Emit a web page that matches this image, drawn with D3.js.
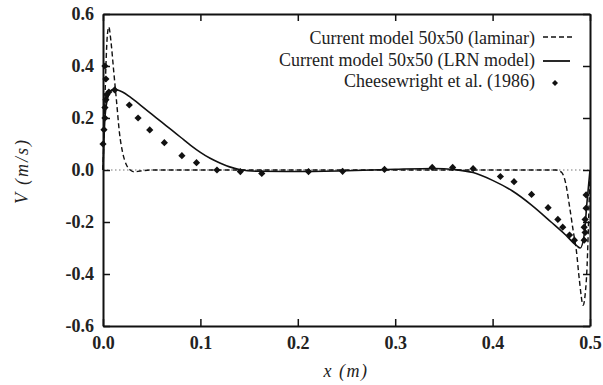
<!DOCTYPE html>
<html><head><meta charset="utf-8">
<script src="https://cdn.jsdelivr.net/npm/d3@7"></script>
<style>body{margin:0;background:#fff}svg{display:block}</style>
</head><body>
<svg id="c" width="603" height="385"></svg>
<script>
const xTicks = [0.0, 0.1, 0.2, 0.3, 0.4, 0.5];
const yTicks = [-0.6, -0.4, -0.2, 0.0, 0.2, 0.4, 0.6];
const xTickLabels = ["0.0", "0.1", "0.2", "0.3", "0.4", "0.5"];
const yTickLabels = ["-0.6", "-0.4", "-0.2", "0.0", "0.2", "0.4", "0.6"];

const laminarX = [0, 0.0015, 0.003, 0.0045, 0.006, 0.008, 0.011, 0.014, 0.017, 0.020, 0.024, 0.028, 0.032, 0.038, 0.05, 0.1, 0.2, 0.3, 0.4, 0.465, 0.471, 0.475, 0.479, 0.483, 0.486, 0.489, 0.493, 0.495, 0.497, 0.4985, 0.5];
const laminarV = [0, 0.2, 0.4, 0.52, 0.55, 0.5, 0.38, 0.26, 0.14, 0.07, 0.02, 0.0, -0.007, -0.004, 0, 0, 0, 0, 0, 0, -0.01, -0.05, -0.14, -0.24, -0.31, -0.42, -0.52, -0.48, -0.37, -0.2, 0];

const lrnX = [0, 0.002, 0.005, 0.008, 0.011, 0.015, 0.02, 0.028, 0.04, 0.05, 0.06, 0.07, 0.08, 0.09, 0.1, 0.11, 0.12, 0.13, 0.14, 0.16, 0.2, 0.25, 0.3, 0.34, 0.36, 0.38, 0.4, 0.42, 0.44, 0.46, 0.475, 0.486, 0.49, 0.494, 0.497, 0.5];
const lrnV = [0, 0.2, 0.28, 0.305, 0.31, 0.308, 0.3, 0.28, 0.245, 0.215, 0.185, 0.155, 0.125, 0.095, 0.068, 0.045, 0.027, 0.012, 0.002, -0.005, -0.006, -0.003, 0.003, 0.006, 0.002, -0.01, -0.04, -0.08, -0.135, -0.2, -0.25, -0.29, -0.3, -0.25, -0.12, 0];

const expX = [0.0, 0.001, 0.002, 0.002, 0.003, 0.004, 0.002, 0.003, 0.006, 0.012, 0.027, 0.036, 0.048, 0.063, 0.081, 0.096, 0.117, 0.141, 0.163, 0.211, 0.246, 0.289, 0.338, 0.359, 0.38, 0.408, 0.422, 0.44, 0.457, 0.467, 0.472, 0.479, 0.484, 0.496, 0.496, 0.495, 0.494, 0.495, 0.494];
const expV = [0.10, 0.155, 0.2, 0.24, 0.27, 0.29, 0.40, 0.35, 0.30, 0.308, 0.25, 0.20, 0.154, 0.105, 0.055, 0.028, 0.0, -0.006, -0.013, -0.006, -0.005, 0.002, 0.01, 0.01, 0.005, -0.025, -0.045, -0.094, -0.145, -0.19, -0.22, -0.25, -0.27, -0.096, -0.147, -0.19, -0.22, -0.24, -0.27];

const legendLabels = ["Current model 50x50 (laminar)", "Current model 50x50 (LRN model)", "Cheesewright et al.  (1986)"];

const svg = d3.select("#c");
const L = 103, R = 590, T = 14, B = 326;
const x = d3.scaleLinear().domain([0, 0.5]).range([L, R]);
const y = d3.scaleLinear().domain([-0.6, 0.6]).range([B, T]);
const serif = '"Liberation Serif", serif';

// zero dotted line
svg.append("line").attr("x1", x(0)).attr("x2", x(0.5)).attr("y1", y(0)).attr("y2", y(0))
  .attr("stroke", "#777").attr("stroke-width", 1.2).attr("stroke-dasharray", "1.5,2.5");

// curves
const line = (xs, vs) => d3.line().x((d, i) => x(xs[i])).y((d, i) => y(vs[i])).curve(d3.curveMonotoneX)(xs);
svg.append("path").attr("d", line(laminarX, laminarV)).attr("fill", "none")
  .attr("stroke", "#111").attr("stroke-width", 1.4).attr("stroke-dasharray", "5,3");
svg.append("path").attr("d", line(lrnX, lrnV)).attr("fill", "none")
  .attr("stroke", "#111").attr("stroke-width", 1.6);

// points (diamonds as rotated squares)
const sym = d3.symbol().type(d3.symbolSquare).size(26);
svg.append("g").selectAll("path").data(expX).join("path")
  .attr("d", sym).attr("transform", (d, i) => `translate(${x(expX[i])},${y(expV[i])}) rotate(45)`)
  .attr("fill", "#111");

// axes (inside ticks on all four sides)
const fmtX = (d, i) => xTickLabels[i];
const fmtY = (d, i) => yTickLabels[i];
const ax = [
  svg.append("g").attr("transform", `translate(0,${B})`).call(d3.axisBottom(x).tickValues(xTicks).tickFormat(fmtX).tickSizeInner(-7).tickSizeOuter(0).tickPadding(10)),
  svg.append("g").attr("transform", `translate(0,${T})`).call(d3.axisTop(x).tickValues(xTicks).tickFormat("").tickSizeInner(-7).tickSizeOuter(0)),
  svg.append("g").attr("transform", `translate(${L},0)`).call(d3.axisLeft(y).tickValues(yTicks).tickFormat(fmtY).tickSizeInner(-7).tickSizeOuter(0).tickPadding(9)),
  svg.append("g").attr("transform", `translate(${R},0)`).call(d3.axisRight(y).tickValues(yTicks).tickFormat("").tickSizeInner(-7).tickSizeOuter(0))
];
ax.forEach(g => {
  g.select(".domain").attr("stroke", "#111").attr("stroke-width", 2);
  g.selectAll(".tick line").attr("stroke", "#111").attr("stroke-width", 1.5);
  g.selectAll("text").style("font-family", serif).style("font-weight", "bold").style("font-size", "18px").attr("fill", "#222");
});

// axis titles
svg.append("text").attr("x", 346).attr("y", 377).attr("text-anchor", "middle")
  .style("font-family", serif).style("font-style", "italic").style("font-size", "18px").style("letter-spacing", "1.5px")
  .attr("fill", "#222").text("x (m)");
svg.append("text").attr("transform", "translate(28,171) rotate(-90)").attr("text-anchor", "middle")
  .style("font-family", serif).style("font-style", "italic").style("font-size", "18px").style("letter-spacing", "2px")
  .attr("fill", "#222").text("V (m/s)");

// legend
const ly = [44, 66, 87];
legendLabels.forEach((t, i) => {
  svg.append("text").attr("x", 535).attr("y", ly[i]).attr("text-anchor", "end")
    .style("font-family", serif).style("font-size", "18px").attr("fill", "#222").text(t);
});
svg.append("line").attr("x1", 543).attr("x2", 572).attr("y1", ly[0] - 7).attr("y2", ly[0] - 7)
  .attr("stroke", "#111").attr("stroke-width", 1.3).attr("stroke-dasharray", "5,3");
svg.append("line").attr("x1", 543).attr("x2", 570).attr("y1", ly[1] - 5).attr("y2", ly[1] - 5)
  .attr("stroke", "#111").attr("stroke-width", 1.8);
svg.append("path").attr("d", d3.symbol().type(d3.symbolSquare).size(18))
  .attr("transform", `translate(555,${ly[2] - 4}) rotate(45)`).attr("fill", "#111");
</script>
</body></html>
